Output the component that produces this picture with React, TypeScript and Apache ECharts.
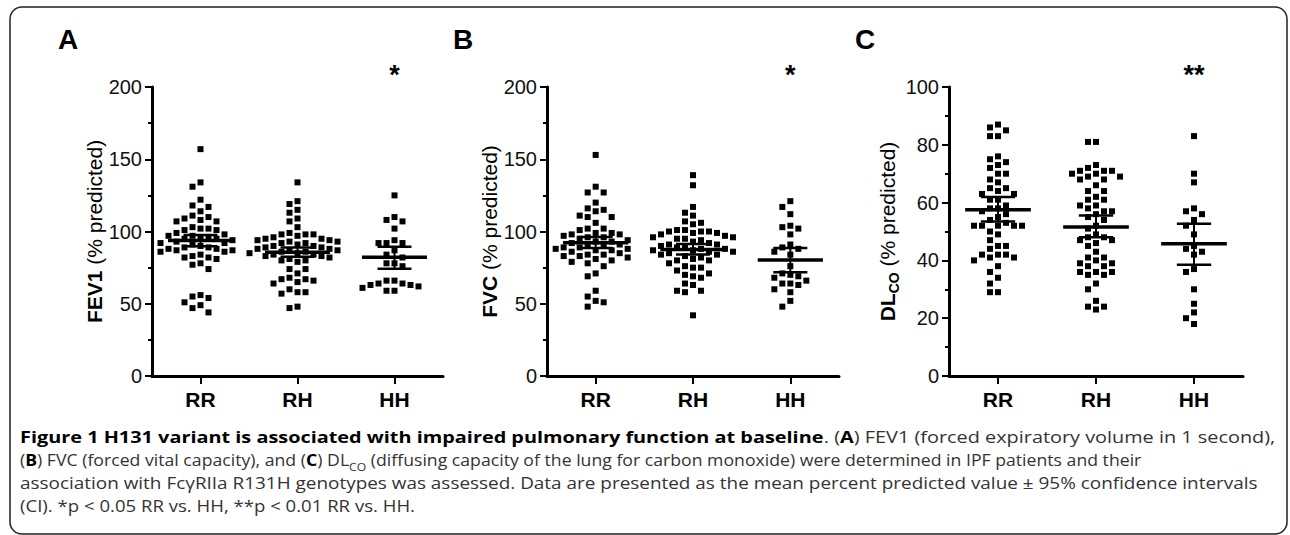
import React, { useEffect, useRef } from "react";
import * as echarts from "echarts";

// ---------- data ----------
const groups = ["RR", "RH", "HH"];

const fev1RR = [157, 134, 131, 122, 118, 117, 114, 111, 110, 109, 108, 107, 107, 103, 102, 102, 101, 101, 99, 98, 97, 97, 96, 96, 95, 95, 94, 93, 92, 92, 91, 90, 89, 89, 88, 88, 87, 87, 86, 86, 84, 83, 82, 82, 81, 78, 77, 74, 56, 55, 54, 51, 49, 47, 44];
const fev1RH = [134, 121, 119, 115, 113, 109, 107, 103, 99, 98, 98, 98, 97, 96, 95, 95, 94, 94, 93, 93, 92, 92, 91, 90, 90, 89, 89, 88, 88, 87, 87, 86, 86, 85, 85, 84, 84, 83, 83, 82, 81, 80, 80, 79, 74, 74, 71, 68, 67, 67, 66, 65, 64, 60, 58, 58, 57, 48, 47];
const fev1HH = [125, 110, 108, 107, 102, 94, 92, 92, 92, 87, 84, 82, 78, 78, 76, 66, 66, 64, 64, 63, 63, 62, 61, 59, 59];
const fev1Mean = [93.8, 85.7, 82.2];
const fev1CiLow = [89.8, 82.5, 74.3];
const fev1CiHigh = [97.6, 89.0, 89.5];

const fvcRR = [153, 131, 127, 127, 120, 116, 115, 114, 111, 110, 110, 106, 102, 102, 101, 99, 99, 98, 98, 97, 96, 96, 95, 94, 93, 93, 92, 91, 90, 90, 89, 89, 88, 88, 87, 87, 86, 85, 84, 84, 83, 83, 82, 81, 80, 79, 78, 76, 71, 69, 59, 55, 52, 51, 48];
const fvcRH = [139, 132, 117, 113, 111, 107, 106, 105, 101, 101, 100, 100, 100, 99, 99, 98, 97, 96, 96, 95, 95, 94, 93, 92, 91, 91, 90, 89, 89, 88, 88, 87, 87, 86, 86, 85, 84, 84, 83, 82, 81, 80, 80, 78, 76, 75, 75, 73, 71, 70, 69, 68, 64, 63, 59, 59, 58, 42];
const fvcHH = [121, 117, 112, 104, 103, 102, 98, 91, 89, 88, 86, 84, 76, 71, 70, 69, 68, 66, 64, 64, 63, 60, 58, 52, 48];
const fvcMean = [92.2, 87.6, 80.3];
const fvcCiLow = [88.6, 84.0, 71.8];
const fvcCiHigh = [96.2, 91.3, 88.6];

const dlcoRR = [87, 86, 85, 83, 83, 76, 75, 74, 73, 72, 70, 70, 68, 67, 65, 65, 64, 63, 63, 61, 61, 59, 58, 58, 57, 56, 55, 54, 53, 52, 52, 52, 52, 52, 50, 49, 47, 45, 45, 44, 42, 42, 42, 41, 41, 40, 38, 36, 34, 32, 29, 29];
const dlcoRH = [81, 81, 73, 72, 71, 71, 71, 70, 70, 69, 69, 68, 68, 66, 64, 64, 62, 61, 61, 59, 59, 58, 57, 57, 56, 55, 54, 52, 51, 49, 48, 48, 47, 47, 46, 45, 43, 41, 41, 40, 39, 39, 38, 38, 36, 36, 36, 35, 35, 32, 30, 26, 24, 24, 23];
const dlcoHH = [83, 70, 67, 58, 57, 56, 54, 52, 49, 45, 44, 43, 42, 37, 36, 30, 25, 22, 20, 18];
const dlcoMean = [57.5, 51.6, 45.8];
const dlcoCiLow = [53.5, 48.0, 38.5];
const dlcoCiHigh = [61.9, 55.5, 52.7];

const panelLetters = ["A", "B", "C"];
const significance = ["*", "*", "**"];
const yMax = [200, 200, 100];
const yInterval = [50, 50, 20];

type Frag = { t: string; s: "b" | "r" | "sub" };
const captionLines: Frag[][] = [
  [
    { t: "Figure 1 H131 variant is associated with impaired pulmonary function at baseline", s: "b" },
    { t: ". (", s: "r" },
    { t: "A", s: "b" },
    { t: ") FEV1 (forced expiratory volume in 1 second),", s: "r" },
  ],
  [
    { t: "(", s: "r" },
    { t: "B", s: "b" },
    { t: ") FVC (forced vital capacity), and (", s: "r" },
    { t: "C", s: "b" },
    { t: ") DL", s: "r" },
    { t: "CO", s: "sub" },
    { t: " (diffusing capacity of the lung for carbon monoxide) were determined in IPF patients and their", s: "r" },
  ],
  [
    { t: "association with FcγRIIa R131H genotypes was assessed. Data are presented as the mean percent predicted value ± 95% confidence intervals", s: "r" },
  ],
  [{ t: "(CI). *p < 0.05 RR vs. HH, **p < 0.01 RR vs. HH.", s: "r" }],
];

// ---------- layout ----------
const W = 1290;
const H = 535;
const gridLeft = [152, 547, 949];
const gridWidth = [291, 292, 294];
const gridTop = 87;
const gridHeight = 289;
const nameGaps = [39, 41, 48];
const captionX = 20;
const captionY = [437, 460, 483, 506];
const captionEnd = [1275, 1142, 1258, 415];
const FONT = "Liberation Sans";
const CAP_FONT = "Open Sans";

const panelData = [
  { groups: [fev1RR, fev1RH, fev1HH], mean: fev1Mean, lo: fev1CiLow, hi: fev1CiHigh },
  { groups: [fvcRR, fvcRH, fvcHH], mean: fvcMean, lo: fvcCiLow, hi: fvcCiHigh },
  { groups: [dlcoRR, dlcoRH, dlcoHH], mean: dlcoMean, lo: dlcoCiLow, hi: dlcoCiHigh },
];

const axisNames = [
  "{b|FEV1}{r| (% predicted)}",
  "{b|FVC}{r| (% predicted)}",
  "{b|DL}{s|CO}{r| (% predicted)}",
];

// deterministic beeswarm layout (pixel-based), returns [x, value] pairs
function swarm(values: number[], cat: number, pxX: number, pxY: number): number[][] {
  const gap = 7.6;
  const items = values.slice().sort((a, b) => b - a);
  const placed: { x: number; y: number }[] = [];
  const out: number[][] = [];
  for (const v of items) {
    const y = v * pxY;
    let off = 0;
    for (let k = 0; k < 80; k++) {
      const cand = (k % 2 === 1 ? -1 : 1) * Math.ceil(k / 2) * 4;
      const hit = placed.some((p) => Math.abs(p.x - cand) < gap && Math.abs(p.y - y) < gap);
      if (!hit) {
        off = cand;
        break;
      }
    }
    placed.push({ x: off, y });
    out.push([cat + off / pxX, v]);
  }
  return out;
}

const capStyles: Record<string, any> = {
  b: { fontFamily: CAP_FONT, fontSize: 16, fontWeight: "bold", fill: "#000", color: "#000", lineHeight: 24 },
  r: { fontFamily: CAP_FONT, fontSize: 16, fontWeight: "normal", fill: "#333", color: "#333", lineHeight: 24 },
  sub: { fontFamily: CAP_FONT, fontSize: 11, fontWeight: "normal", fill: "#333", color: "#333", verticalAlign: "bottom" },
};

function measureLine(line: Frag[]): number {
  const c = document.createElement("canvas");
  const ctx = c.getContext("2d");
  if (!ctx) return 1;
  let w = 0;
  for (const f of line) {
    const st = capStyles[f.s];
    ctx.font = `${st.fontWeight} ${st.fontSize}px "${CAP_FONT}"`;
    w += ctx.measureText(f.t).width;
  }
  return w;
}

function buildOption() {
  const grids: any[] = [];
  const xAxes: any[] = [];
  const hiddenX: any[] = [];
  const yAxes: any[] = [];
  const series: any[] = [];
  const graphics: any[] = [];

  for (let g = 0; g < 3; g++) {
    grids.push({ left: gridLeft[g], top: gridTop, width: gridWidth[g], height: gridHeight, containLabel: false });
    xAxes.push({
      gridIndex: g,
      type: "category",
      data: groups,
      boundaryGap: true,
      axisLine: { show: true, onZero: false, lineStyle: { color: "#000", width: 3 } },
      axisTick: { show: true, alignWithLabel: true, length: 8, lineStyle: { color: "#000", width: 2 } },
      axisLabel: { fontSize: 21, fontWeight: "bold", color: "#000", fontFamily: FONT, margin: 13 },
      splitLine: { show: false },
    });
    hiddenX.push({ gridIndex: g, type: "value", min: 0.5, max: 3.5, show: false, splitLine: { show: false } });
    yAxes.push({
      gridIndex: g,
      type: "value",
      min: 0,
      max: yMax[g],
      interval: yInterval[g],
      axisLine: { show: true, lineStyle: { color: "#000", width: 3 } },
      axisTick: { show: true, length: 7, lineStyle: { color: "#000", width: 2 } },
      minorTick: { show: true, splitNumber: 2, length: 4, lineStyle: { color: "#000", width: 2 } },
      splitLine: { show: false },
      axisLabel: { fontSize: 20, color: "#111", fontFamily: FONT, margin: 10 },
      name: axisNames[g],
      nameLocation: "middle",
      nameGap: nameGaps[g],
      nameTextStyle: {
        rich: {
          b: { fontSize: 21, fontWeight: "bold", fontFamily: FONT, color: "#000", lineHeight: 28 },
          r: { fontSize: 21, fontWeight: "normal", fontFamily: FONT, color: "#000", lineHeight: 28 },
          s: { fontSize: 14, fontWeight: "bold", fontFamily: FONT, color: "#000", verticalAlign: "bottom" },
        },
      },
    });

    const pxX = gridWidth[g] / 3;
    const pxY = gridHeight / yMax[g];
    const pd = panelData[g];
    const pts: number[][] = [];
    pd.groups.forEach((vals, i) => {
      swarm(vals, i + 1, pxX, pxY).forEach((p) => pts.push(p));
    });
    series.push({
      type: "scatter",
      xAxisIndex: 3 + g,
      yAxisIndex: g,
      data: pts,
      symbol: "rect",
      symbolSize: 6,
      itemStyle: { color: "#000", opacity: 1 },
      silent: true,
      z: 2,
    });
    series.push({
      type: "custom",
      xAxisIndex: 3 + g,
      yAxisIndex: g,
      clip: false,
      z: 3,
      encode: { x: 0, y: 1 },
      data: pd.mean.map((m, i) => [i + 1, m, pd.lo[i], pd.hi[i]]),
      renderItem: (params: any, api: any) => {
        const x = api.value(0);
        const pm = api.coord([x, api.value(1)]);
        const pl = api.coord([x, api.value(2)]);
        const ph = api.coord([x, api.value(3)]);
        const unit = api.size([1, 0])[0];
        const hw = unit * 0.335;
        const cw = unit * 0.175;
        const st = (w: number) => ({ stroke: "#000", lineWidth: w, fill: null });
        return {
          type: "group",
          children: [
            { type: "line", shape: { x1: pm[0] - hw, y1: pm[1], x2: pm[0] + hw, y2: pm[1] }, style: st(3.5) },
            { type: "line", shape: { x1: pl[0], y1: pl[1], x2: ph[0], y2: ph[1] }, style: st(2) },
            { type: "line", shape: { x1: pl[0] - cw, y1: pl[1], x2: pl[0] + cw, y2: pl[1] }, style: st(2.5) },
            { type: "line", shape: { x1: ph[0] - cw, y1: ph[1], x2: ph[0] + cw, y2: ph[1] }, style: st(2.5) },
          ],
        };
      },
    });

    // panel letter
    graphics.push({
      type: "text",
      x: gridLeft[g] - 94,
      y: 39,
      style: {
        text: panelLetters[g],
        fontFamily: FONT,
        fontSize: 28,
        fontWeight: "bold",
        fill: "#000",
        align: "left",
        textAlign: "left",
        verticalAlign: "middle",
        textVerticalAlign: "middle",
      },
    });
    // significance
    graphics.push({
      type: "text",
      x: gridLeft[g] + gridWidth[g] * (2.5 / 3),
      y: 75,
      style: {
        text: significance[g],
        fontFamily: FONT,
        fontSize: 27,
        fontWeight: "bold",
        fill: "#000",
        align: "center",
        textAlign: "center",
        verticalAlign: "middle",
        textVerticalAlign: "middle",
      },
    });
  }

  // frame
  graphics.push({
    type: "rect",
    shape: { x: 10, y: 7, width: 1277, height: 527, r: 12 },
    style: { fill: "none", stroke: "#222", lineWidth: 1.5 },
    z: 0,
  });

  // caption
  captionLines.forEach((line, i) => {
    const w = measureLine(line);
    const target = captionEnd[i] - captionX;
    const sx = w > 0 ? target / w : 1;
    const text = line.map((f) => `{${f.s}|${f.t}}`).join("");
    graphics.push({
      type: "text",
      x: captionX,
      y: captionY[i],
      scaleX: sx,
      style: {
        text,
        rich: capStyles,
        fontFamily: CAP_FONT,
        fontSize: 16,
        fill: "#333",
        align: "left",
        textAlign: "left",
        verticalAlign: "middle",
        textVerticalAlign: "middle",
      },
    });
  });

  return {
    animation: false,
    backgroundColor: "#fff",
    textStyle: { fontFamily: FONT },
    grid: grids,
    xAxis: [...xAxes, ...hiddenX],
    yAxis: yAxes,
    series,
    graphic: { elements: graphics },
  };
}

export default function App() {
  const ref = useRef<HTMLDivElement>(null);
  useEffect(() => {
    if (!ref.current) return;
    const chart = echarts.init(ref.current, undefined, { renderer: "svg" });
    chart.setOption(buildOption() as any);
    return () => chart.dispose();
  }, []);
  return (
    <div
      ref={ref}
      style={{ position: "absolute", left: 0, top: 0, width: W, height: H, background: "#fff" }}
    />
  );
}
